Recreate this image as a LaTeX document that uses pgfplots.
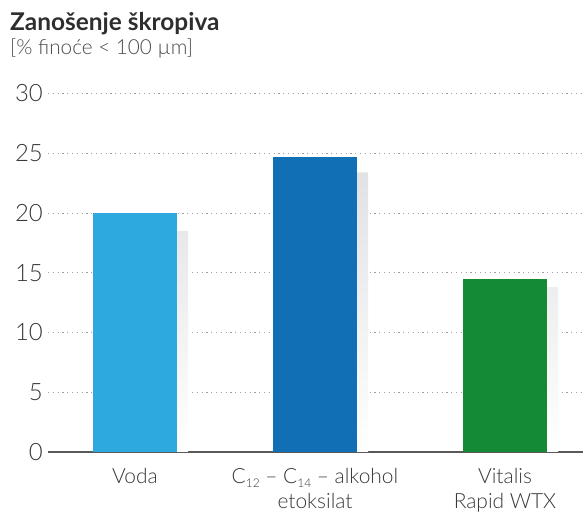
\documentclass[border=0pt]{standalone}
\usepackage{fontspec}
\setmainfont{Lato}
\newfontfamily\lightfont{Lato Light}
\usepackage{pgfplots}
\pgfplotsset{compat=1.18}
\definecolor{cVoda}{HTML}{2EA9DF}
\definecolor{cC}{HTML}{1170B5}
\definecolor{cV}{HTML}{158A35}
\definecolor{shadowc}{HTML}{E2E2E5}
\definecolor{txt}{HTML}{383838}
\definecolor{titlec}{HTML}{2E2E2E}
\definecolor{subc}{HTML}{4A4A4A}
\definecolor{gridc}{HTML}{A0A0A0}
\begin{document}
\begin{tikzpicture}[x=1bp,y=1bp]
\useasboundingbox (0,0) rectangle (583,515);
\node[anchor=base west, inner sep=0, font=\fontsize{24.5}{24.5}\selectfont\bfseries, text=titlec] at (10,484) {Zanošenje škropiva};
\node[anchor=base west, inner sep=0, font=\lightfont\fontsize{20.8}{20.8}\selectfont, text=subc] at (10,460) {[\% finoće < 100 µm]};
\begin{axis}[
  at={(48bp,63bp)}, anchor=south west,
  scale only axis, width=535bp, height=358.5bp,
  xmin=48, xmax=583, ymin=0, ymax=30,
  axis line style={draw=none},
  major tick length=0pt,
  ytick={5,10,...,30},
  extra y ticks={0},
  extra y tick style={grid style={solid, draw=black!65, line width=1.1bp}},
  ymajorgrids,
  grid style={draw=gridc, line width=0.8bp, dash pattern=on 1.2bp off 3.6bp},
  /pgf/number format/assume math mode=true,
  yticklabel style={font=\lightfont\fontsize{24}{24}\selectfont, text=txt, anchor=east, inner sep=0pt, xshift=-5bp},
  xtick={135,315,505},
  xticklabels={Voda, {C{\raisebox{-0.35ex}{\fontsize{12}{12}\selectfont 12}} – C{\raisebox{-0.35ex}{\fontsize{12}{12}\selectfont 14}} – alkohol\\etoksilat}, {Vitalis\\Rapid WTX}},
  xticklabel style={font=\lightfont\fontsize{21}{25}\selectfont, text=txt, align=center, anchor=north, inner sep=0pt, yshift=-16bp},
  ybar, bar width=84,
]
\addplot[draw=none, top color=shadowc, bottom color=white, bar shift=11] coordinates {(135,18.5) (315,23.4) (505,13.8)};
\addplot[draw=none, fill=cVoda, bar shift=0] coordinates {(135,20)};
\addplot[draw=none, fill=cC, bar shift=0] coordinates {(315,24.7)};
\addplot[draw=none, fill=cV, bar shift=0] coordinates {(505,14.5)};
\end{axis}
\end{tikzpicture}
\end{document}
